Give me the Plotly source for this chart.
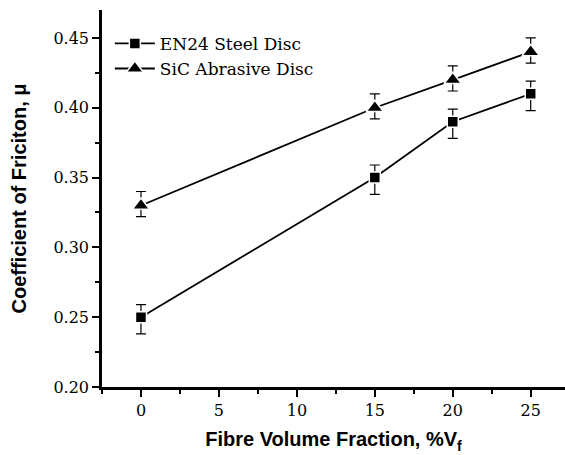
import plotly.graph_objects as go

x_vals = [0, 15, 20, 25]
en24 = [0.25, 0.35, 0.39, 0.41]
en24_err_plus = [0.009, 0.009, 0.009, 0.009]
en24_err_minus = [0.012, 0.012, 0.012, 0.012]
sic = [0.33, 0.40, 0.42, 0.44]
sic_err_plus = [0.010, 0.010, 0.010, 0.010]
sic_err_minus = [0.008, 0.008, 0.008, 0.008]
series_names = ["EN24 Steel Disc", "SiC Abrasive Disc"]
x_ticks = [0, 5, 10, 15, 20, 25]
y_ticks = [0.20, 0.25, 0.30, 0.35, 0.40, 0.45]

fig = go.Figure()
for name, ys, ep, em, sym, sz in [
    (series_names[0], en24, en24_err_plus, en24_err_minus, "square", 11),
    (series_names[1], sic, sic_err_plus, sic_err_minus, "triangle-up", 15),
]:
    fig.add_trace(go.Scatter(
        x=x_vals, y=ys, name=name, mode="lines+markers",
        line=dict(color="black", width=1.8),
        marker=dict(symbol=sym, size=sz, color="black",
                    line=dict(color="white", width=1.5)),
        error_y=dict(type="data", array=ep, arrayminus=em, symmetric=False,
                     color="black", thickness=1.2, width=5),
    ))

fig.update_layout(
    width=565, height=455,
    margin=dict(l=102, r=0, t=10, b=68),
    paper_bgcolor="white", plot_bgcolor="white",
    showlegend=True,
    legend=dict(x=0.017, y=0.958, xanchor="left", yanchor="top",
                bgcolor="rgba(0,0,0,0)", borderwidth=0,
                font=dict(family="DejaVu Serif", size=17, color="black"),
                tracegroupgap=0, itemwidth=40),
)
fig.update_xaxes(
    range=[-2.5, 27.2], tickvals=x_ticks, ticktext=[str(v) for v in x_ticks],
    showline=True, linecolor="black", linewidth=2.5, showgrid=False, zeroline=False,
    ticks="outside", ticklen=7, tickwidth=2, tickcolor="black",
    tickfont=dict(family="DejaVu Serif", size=16, color="black"),
    minor=dict(ticks="outside", dtick=2.5, tick0=0, ticklen=4, tickwidth=2, tickcolor="black", showgrid=False),
    title=dict(text="Fibre Volume Fraction, %V<sub>f</sub>", standoff=14,
               font=dict(family="Liberation Sans", size=20, color="black", weight="bold")),
)
fig.update_yaxes(
    range=[0.2, 0.47], tickvals=y_ticks, ticktext=["%.2f" % v for v in y_ticks],
    showline=True, linecolor="black", linewidth=2.5, showgrid=False, zeroline=False,
    ticks="outside", ticklen=7, tickwidth=2, tickcolor="black",
    tickfont=dict(family="DejaVu Serif", size=16, color="black"),
    minor=dict(ticks="outside", dtick=0.025, tick0=0.2, ticklen=4, tickwidth=2, tickcolor="black", showgrid=False),
    title=dict(text="Coefficient of Friciton, μ", standoff=22,
               font=dict(family="Liberation Sans", size=20, color="black", weight="bold")),
)

fig.write_html("out.html")
